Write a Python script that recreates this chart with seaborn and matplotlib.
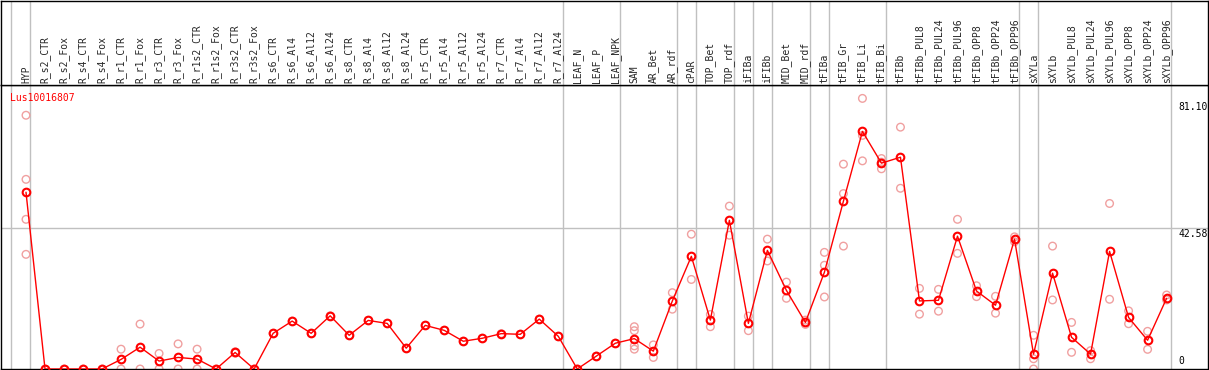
import numpy as np
import pandas as pd
import matplotlib
matplotlib.use("Agg")
import matplotlib.pyplot as plt
import seaborn as sns

# === Data ===
labels = [
    "HYP", "R_s2_CTR", "R_s2_Fox", "R_s4_CTR", "R_s4_Fox", "R_r1_CTR", "R_r1_Fox",
    "R_r3_CTR", "R_r3_Fox", "R_r1s2_CTR", "R_r1s2_Fox", "R_r3s2_CTR", "R_r3s2_Fox",
    "R_s6_CTR", "R_s6_Al4", "R_s6_Al12", "R_s6_Al24", "R_s8_CTR", "R_s8_Al4",
    "R_s8_Al12", "R_s8_Al24", "R_r5_CTR", "R_r5_Al4", "R_r5_Al12", "R_r5_Al24",
    "R_r7_CTR", "R_r7_Al4", "R_r7_Al12", "R_r7_Al24", "LEAF_N", "LEAF_P", "LEAF_NPK",
    "SAM", "AR_Bet", "AR_rdf", "cPAR", "TOP_Bet", "TOP_rdf", "iFIBa", "iFIBb",
    "MID_Bet", "MID_rdf", "tFIBa", "tFIB_Gr", "tFIB_Li", "tFIB_Bi", "tFIBb",
    "tFIBb_PUL8", "tFIBb_PUL24", "tFIBb_PUL96", "tFIBb_OPP8", "tFIBb_OPP24", "tFIBb_OPP96",
    "sXYLa", "sXYLb", "sXYLb_PUL8", "sXYLb_PUL24", "sXYLb_PUL96", "sXYLb_OPP8",
    "sXYLb_OPP24", "sXYLb_OPP96",
]

means = [
    53.5, 0, 0, 0, 0, 2.9, 6.6, 2.4, 3.5, 3.0, 0, 5.0, 0,
    10.8, 14.5, 10.8, 16.1, 10.2, 14.7, 13.8, 6.3, 13.2, 11.7, 8.4, 9.3,
    10.7, 10.5, 15.1, 9.9, 0, 3.9, 7.8,
    9.2, 5.4, 20.6, 34.1, 14.8, 45.0, 13.8, 35.9, 23.8, 14.1,
    29.3, 50.8, 71.9, 62.3, 64.1,
    20.6, 20.8, 40.2, 23.6, 19.3, 39.3,
    4.5, 29.0, 9.6, 4.5, 35.6, 15.6, 8.7, 21.4,
]

replicates = [
    [76.8, 57.4, 45.3, 34.7], [0], [0], [0], [0], [6.0, 0], [13.6, 0], [4.7, 0], [7.6, 0],
    [6.0, 0], [0], [5.2, 4.8], [0],
    [10.8], [14.5], [10.8], [16.1], [10.2], [14.7], [13.8], [6.3], [13.2], [11.7], [8.4], [9.3],
    [10.7], [10.5], [15.1], [9.9], [0], [3.9], [7.8],
    [12.8, 11.6, 7.0, 6.0], [7.3, 3.5], [23.1, 18.1], [40.8, 27.1], [16.5, 12.8],
    [49.3, 40.5], [16.0, 11.6], [39.3, 32.7], [26.3, 21.4], [14.8, 13.5],
    [35.3, 31.4, 21.8], [62.0, 53.1, 37.2], [81.9, 70.7, 63.0], [63.7, 62.6, 60.6], [73.2, 54.7],
    [24.4, 16.6], [24.1, 17.5], [45.3, 35.0], [25.2, 21.9], [22.0, 16.9], [40.0, 38.5],
    [10.2, 3.1, 0], [37.2, 20.9], [14.1, 5.05], [5.55, 3.1], [50.1, 21.1], [17.6, 13.7],
    [11.4, 5.95], [22.4, 20.9],
]

# last sample of each group (gray separators)
group_ends = [-1, 0, 28, 31, 34, 35, 37, 38, 39, 41, 42, 45, 52, 53, 60]
y_ticks = [0, 42.58, 81.10]
gene = "Lus10016807"

# === Build tables ===
df_mean = pd.DataFrame({"pos": np.arange(len(labels)), "value": means})
rep_rows = [(i, v) for i, reps in enumerate(replicates) for v in reps]
df_rep = pd.DataFrame(rep_rows, columns=["pos", "value"])

sns.set_style("white")
plt.rcParams["font.family"] = ["DejaVu Sans Mono"]

W, H = 1209, 370
fig = plt.figure(figsize=(W / 100, H / 100), dpi=100)

x_left, x_right = 1, 1208
y_top_plot, y_bot = 85, 369
step = 19.01
xlim = ((x_left - 26) / step, (x_right - 26) / step)
ylim = (0, (y_bot - y_top_plot) / 3.304)

ax = fig.add_axes([x_left / W, (H - y_bot) / H, (x_right - x_left) / W, (y_bot - y_top_plot) / H])
hax = fig.add_axes([x_left / W, (H - y_top_plot) / H, (x_right - x_left) / W, (y_top_plot - 0.5) / H])

# separators and grid
for b in group_ends:
    ax.axvline(b + 0.226, color="#c0c0c0", lw=1, zorder=0)
    hax.axvline(b + 0.226, color="#c0c0c0", lw=1, zorder=0)
ax.axhline(42.58, color="#c0c0c0", lw=1, zorder=0)

# replicates
sns.scatterplot(data=df_rep, x="pos", y="value", ax=ax, marker="o", s=30,
                facecolor="none", edgecolor="#f0a0a0", linewidth=1.0, zorder=2, legend=False)

# mean line
sns.lineplot(data=df_mean, x="pos", y="value", ax=ax, color="red", lw=1,
             marker="o", markersize=5.5, markerfacecolor="none", markeredgecolor="red",
             markeredgewidth=1.5, zorder=3, legend=False)

ax.set_xlim(*xlim)
ax.set_ylim(*ylim)
ax.set_xticks([])
ax.set_yticks([])
ax.set_xlabel("")
ax.set_ylabel("")

ax.text(-0.86, ylim[1] - 2.3, gene, color="red", fontsize=7, va="top", ha="left")

for v in y_ticks:
    va = "bottom" if v == 0 else "top"
    off = 0.8 if v == 0 else -0.2
    lab = "0" if v == 0 else f"{v:.2f}"
    ax.text(60.62, v + off, lab, fontsize=7, va=va, ha="left", color="black", clip_on=True)

# header with sample names
hax.set_xlim(*xlim)
hax.set_ylim(0, y_top_plot)
hax.set_xticks([])
hax.set_yticks([])
for i, lab in enumerate(labels):
    hax.text(i, 2, lab, rotation=90, ha="center", va="bottom", fontsize=7)

for a in (ax, hax):
    for spine in a.spines.values():
        spine.set_linewidth(1)
        spine.set_color("black")

fig.savefig("out.png", dpi=100)
plt.close()
